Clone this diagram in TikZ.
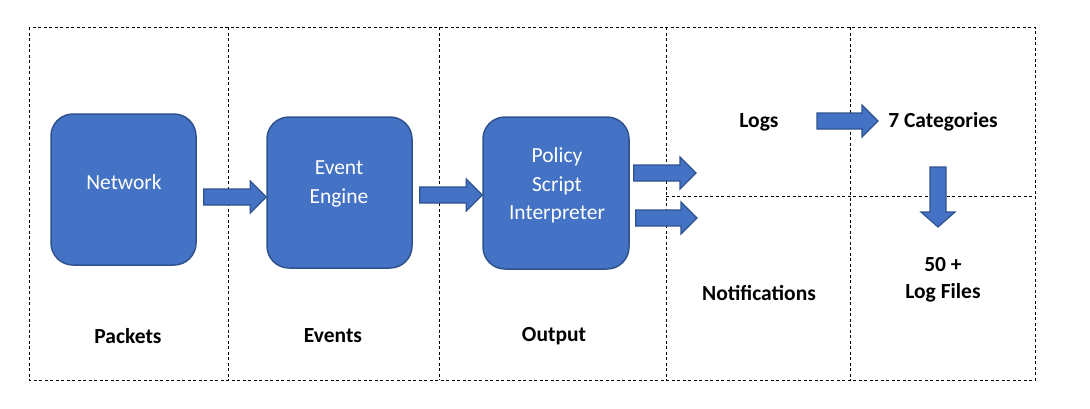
\documentclass[tikz,border=0pt]{standalone}
\usepackage{fontspec}
\setmainfont{Carlito}
\usepackage{xcolor}
\usetikzlibrary{calc}

\definecolor{boxblue}{HTML}{4472C4}
\definecolor{edgeblue}{HTML}{2F528F}

\tikzset{
  stagebox/.style={draw=edgeblue, line width=1.5pt, fill=boxblue, rounded corners=22pt,
    minimum width=145pt, minimum height=151pt},
  stagetext/.style={text=white, align=center, inner sep=0pt,
    font=\fontsize{21.5}{28.5}\selectfont},
  lbl/.style={align=center, inner sep=0pt, font=\bfseries\fontsize{21.5}{27}\selectfont},
  sep/.style={dash pattern=on 3pt off 2.5pt, line width=0.8pt},
  blockarrow/.style={draw=edgeblue, line width=1.2pt, fill=boxblue, line join=miter}
}

% block arrow to the right, at the height of the first point
\newcommand{\harrow}[2]{%
  \path[blockarrow] let \p1=(#1), \p2=(#2) in
    (\x1,\y1+8pt) -- (\x2-16pt,\y1+8pt) -- (\x2-16pt,\y1+16pt) -- (\x2,\y1)
    -- (\x2-16pt,\y1-16pt) -- (\x2-16pt,\y1-8pt) -- (\x1,\y1-8pt) -- cycle;}
% block arrow downwards, at the x of the first point
\newcommand{\varrow}[2]{%
  \path[blockarrow] let \p1=(#1), \p2=(#2) in
    (\x1-8pt,\y1) -- (\x1-8pt,\y2+15pt) -- (\x1-17pt,\y2+15pt) -- (\x1,\y2)
    -- (\x1+17pt,\y2+15pt) -- (\x1+8pt,\y2+15pt) -- (\x1+8pt,\y1) -- cycle;}

\begin{document}
\begin{tikzpicture}[x=1pt,y=-1pt]
  \useasboundingbox (0,0) rectangle (1090,408);

  % Draw the dashed frame
  \draw[sep] (29,27) rectangle (1035,380);
  \foreach \x in {228,439,666,850}
    \draw[sep] (\x,27) -- (\x,380);
  \draw[sep] (666,196) -- (1035,196);

  % Draw the stages
  \node[stagebox] (network) at (123.5,189.5) {};
  \node[stagebox] (engine) at (339.5,192.5) {};
  \node[stagebox, minimum width=146pt, minimum height=152pt] (policy) at (556,193) {};
  \node[stagetext] (networktext) at (124,182) {Network};
  \node[stagetext] (enginetext) at (339,184) {Event\\Engine};
  \node[stagetext] (policytext) at (557,185.5) {Policy\\Script\\Interpreter};

  % Draw the labels
  \node[lbl] (packets) at (128,336) {Packets};
  \node[lbl] (events) at (333,336) {Events};
  \node[lbl] (output) at (554,336) {Output};
  \node[lbl] (logs) at (759,122) {Logs};
  \node[lbl] (categories) at (943,122) {7 Categories};
  \node[lbl] (notifs) at (759,293) {Notifications};
  \node[lbl] (logfiles) at (943,280) {50 +\\Log Files};

  % Draw the arrows
  \coordinate (logsin) at (696,173);
  \coordinate (notifsin) at (697,218);
  \harrow{$(network.east)+(7,7.5)$}{engine.west}
  \harrow{$(engine.east)+(7,2.5)$}{policy.west}
  \harrow{$(policy.east)+(4,-20)$}{logsin}
  \harrow{$(policy.east)+(6,25)$}{notifsin}
  \harrow{$(logs.center)+(58,-1)$}{$(categories.center)+(-65,0)$}
  \varrow{$(categories.center)+(-5,45)$}{$(logfiles.center)+(0,-53)$}
\end{tikzpicture}
\end{document}
